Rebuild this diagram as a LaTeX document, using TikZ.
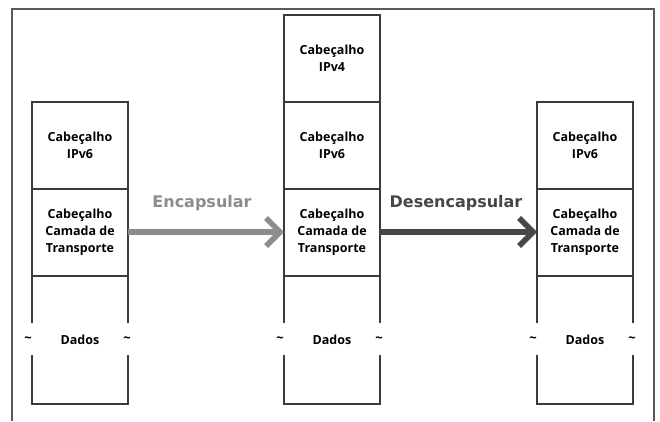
\documentclass[tikz,border=0pt]{standalone}
\usepackage{fontspec}
\setmainfont{Open Sans}
\newfontfamily\labelfont{DejaVu Sans}
\usetikzlibrary{positioning,arrows.meta}
\definecolor{linegray}{HTML}{3A3A3A}
\definecolor{encgray}{HTML}{8C8C8C}
\definecolor{desgray}{HTML}{474747}
\tikzset{
  camada/.style={draw=linegray, line width=2pt, rectangle, minimum width=96pt, minimum height=87pt,
    inner sep=0pt, outer sep=0pt, align=center, font=\bfseries\fontsize{12.5}{17}\selectfont},
  dados/.style={camada, draw=none, minimum height=128pt},
  dadosline/.style={draw=linegray, line width=2pt},
  til/.style={inner sep=0pt, font=\bfseries\fontsize{13}{13}\selectfont},
  passo/.style={line width=5.5pt, -{Straight Barb[length=14pt, width=28pt]}},
  passolabel/.style={font=\labelfont\bfseries\fontsize{16}{16}\selectfont}
}
\begin{document}
\begin{tikzpicture}[x=1pt, y=-1pt]
    \useasboundingbox (0,0) rectangle (660,421);
    % frame
    \draw[gray!70!black, line width=1.6pt] (12,421) -- (12,9) -- (654,9) -- (654,421);

    % Left stack
    \node[camada] (ipv6a) at (80,145) {Cabeçalho\\IPv6};
    \node[camada, below=0pt of ipv6a] (transa) {Cabeçalho\\Camada de\\Transporte};
    \node[dados, below=0pt of transa] (dadosa) {Dados};

    % Middle stack
    \node[camada] (ipv4b) at (332,58) {Cabeçalho\\IPv4};
    \node[camada, below=0pt of ipv4b] (ipv6b) {Cabeçalho\\IPv6};
    \node[camada, below=0pt of ipv6b] (transb) {Cabeçalho\\Camada de\\Transporte};
    \node[dados, below=0pt of transb] (dadosb) {Dados};

    % Right stack
    \node[camada] (ipv6c) at (585,145) {Cabeçalho\\IPv6};
    \node[camada, below=0pt of ipv6c] (transc) {Cabeçalho\\Camada de\\Transporte};
    \node[dados, below=0pt of transc] (dadosc) {Dados};

    % open sides of the data boxes
    \foreach \d in {dadosa,dadosb,dadosc} {
        \draw[dadosline] (\d.north west) -- ([yshift=17pt]\d.west)
            ([yshift=-15pt]\d.west) -- (\d.south west) -- (\d.south east) -- ([yshift=-15pt]\d.east)
            ([yshift=17pt]\d.east) -- (\d.north east);
        \node[til] (\d-tl) at ([xshift=-4pt]\d.west) {\char"7E};
        \node[til] (\d-tr) at ([xshift=-1pt]\d.east) {\char"7E};
    }

    % Encapsulate / decapsulate
    \draw[passo, encgray] (transa.east) -- (transb.west);
    \node[passolabel, text=encgray] (enc) at (202,203) {Encapsular};
    \draw[passo, desgray] (transb.east) -- (transc.west);
    \node[passolabel, text=desgray] (des) at (456,203) {Desencapsular};
\end{tikzpicture}
\end{document}
